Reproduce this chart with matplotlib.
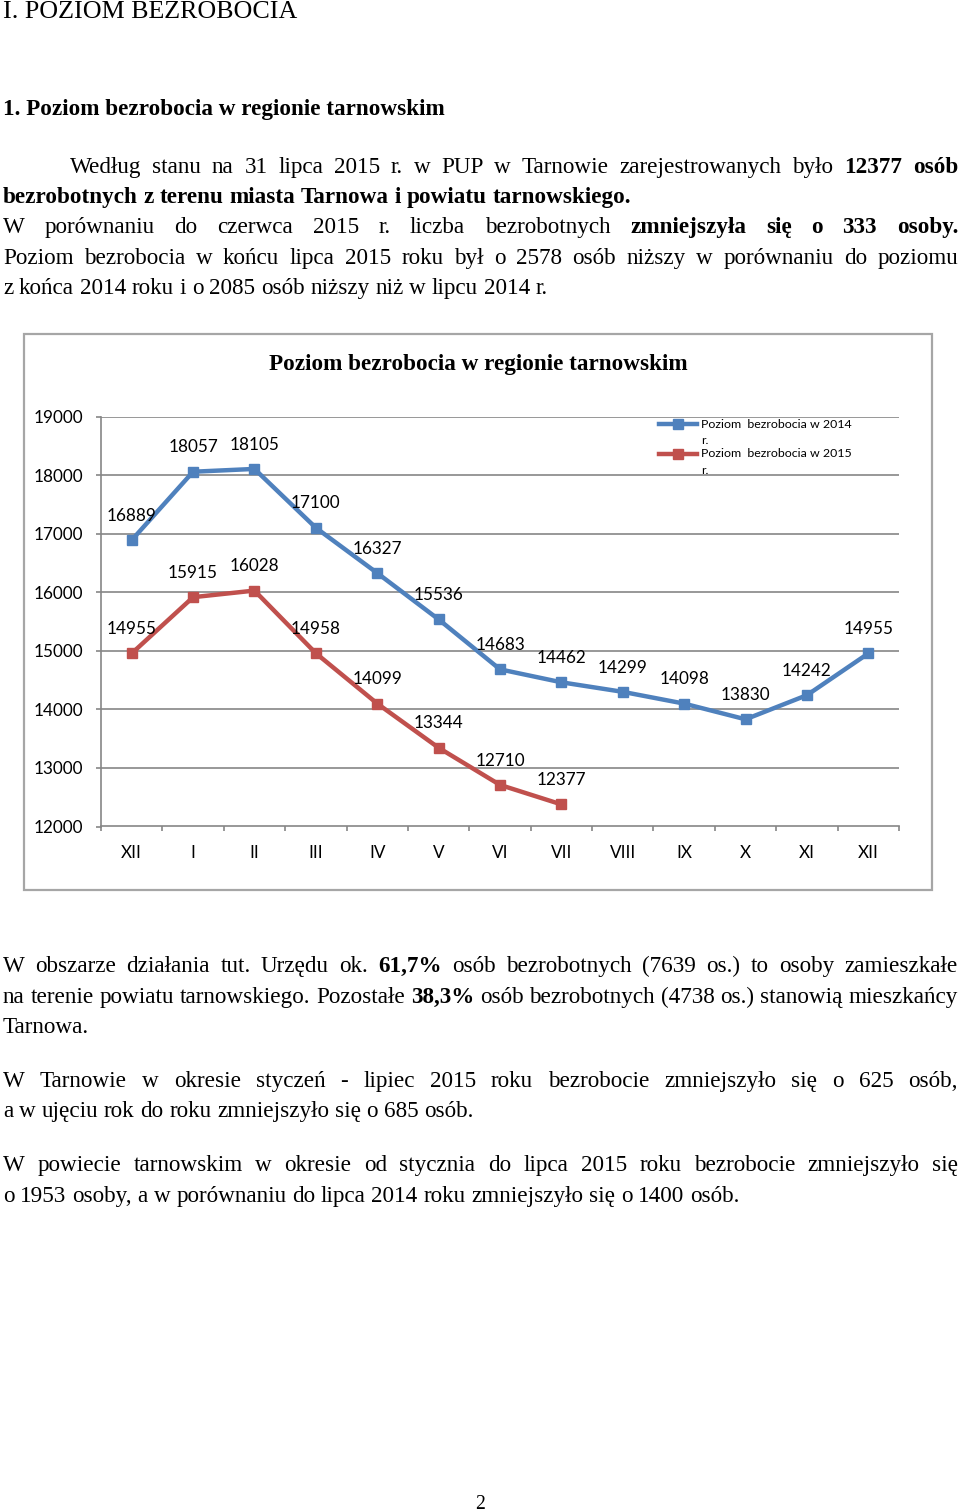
import matplotlib
matplotlib.use('Agg')
import matplotlib.pyplot as plt
from matplotlib.patches import Rectangle
from matplotlib.lines import Line2D
from matplotlib.ticker import FixedLocator, NullFormatter

# ---------------- data ----------------
months = ['XII', 'I', 'II', 'III', 'IV', 'V', 'VI', 'VII', 'VIII', 'IX', 'X', 'XI', 'XII']
level_2014 = [16889, 18057, 18105, 17100, 16327, 15536, 14683, 14462, 14299, 14098, 13830, 14242, 14955]
level_2015 = [14955, 15915, 16028, 14958, 14099, 13344, 12710, 12377]
series_labels = ['Poziom  bezrobocia w 2014', 'Poziom  bezrobocia w 2015']
y_ticks = [12000, 13000, 14000, 15000, 16000, 17000, 18000, 19000]
chart_title = 'Poziom bezrobocia w regionie tarnowskim'

W, H = 960, 1512
fig = plt.figure(figsize=(9.6, 15.12), dpi=100)
fig.patch.set_facecolor('white')
rend = fig.canvas.get_renderer()
SERIF = 'Liberation Serif'
SANS = 'Lato'
BLUE = '#4F81BD'
RED = '#C0504D'
GRID = '#868686'


def fx(x):
    return x / W


def fy(y):
    return 1 - y / H


def width_of(s, size, bold=False, family=SERIF):
    t = fig.text(0, 0, s, fontsize=size, family=family, weight='bold' if bold else 'normal')
    w = t.get_window_extent(rend).width
    t.remove()
    return w


def fit(s, target, bold=False, family=SERIF):
    return 10 * target / width_of(s, 10, bold, family)


BODY = fit('a w ujęciu rok do roku zmniejszyło się o 685 osób.', 470)


def line(tokens, y, x0=3, x1=958, justify=True, size=None):
    size = size or BODY
    words = []
    for txt, b in tokens:
        for w in txt.split():
            words.append((w, b))
    ws = [width_of(w, size, b) for w, b in words]
    if justify and len(words) > 1:
        gap = (x1 - x0 - sum(ws)) / (len(words) - 1)
    else:
        gap = width_of('a a', size) - width_of('aa', size)
    x = x0
    for (w, b), ww in zip(words, ws):
        fig.text(fx(x), fy(y), w, fontsize=size, family=SERIF,
                 weight='bold' if b else 'normal', va='baseline', ha='left')
        x += ww + gap


# ---------------- page text ----------------
s = fit('I. POZIOM BEZROBOCIA', 294)
fig.text(fx(3), fy(18), 'I. POZIOM BEZROBOCIA', fontsize=s, family=SERIF, va='baseline')
s = fit('1. Poziom bezrobocia w regionie tarnowskim', 441, bold=True)
fig.text(fx(3), fy(115), '1. Poziom bezrobocia w regionie tarnowskim', fontsize=s,
         family=SERIF, weight='bold', va='baseline')

line([('Według stanu na 31 lipca 2015 r. w PUP w Tarnowie zarejestrowanych było', False),
      ('12377 osób', True)], 173, x0=70)
line([('bezrobotnych z terenu miasta Tarnowa i powiatu tarnowskiego.', True)], 203, justify=False)
line([('W porównaniu do czerwca 2015 r. liczba bezrobotnych', False),
      ('zmniejszyła się o 333 osoby.', True)], 233)
line([('Poziom bezrobocia w końcu lipca 2015 roku był o 2578 osób niższy w porównaniu do poziomu', False)], 264)
line([('z końca 2014 roku i o 2085 osób niższy niż w lipcu 2014 r.', False)], 294, justify=False)

line([('W obszarze działania tut. Urzędu ok.', False), ('61,7%', True),
      ('osób bezrobotnych (7639 os.) to osoby zamieszkałe', False)], 972)
line([('na terenie powiatu tarnowskiego. Pozostałe', False), ('38,3%', True),
      ('osób bezrobotnych (4738 os.) stanowią mieszkańcy', False)], 1003)
line([('Tarnowa.', False)], 1033, justify=False)
line([('W Tarnowie w okresie styczeń - lipiec 2015 roku bezrobocie zmniejszyło się o 625 osób,', False)], 1087)
line([('a w ujęciu rok do roku zmniejszyło się o 685 osób.', False)], 1117, justify=False)
line([('W powiecie tarnowskim w okresie od stycznia do lipca 2015 roku bezrobocie zmniejszyło się', False)], 1171)
line([('o 1953 osoby, a w porównaniu do lipca 2014 roku zmniejszyło się o 1400 osób.', False)], 1202, justify=False)

fig.text(fx(480), fy(1509), '2', fontsize=BODY * 0.85, family=SERIF, ha='center', va='baseline')

# ---------------- chart ----------------
fig.patches.append(Rectangle((fx(24), fy(890)), fx(932) - fx(24), fy(334) - fy(890),
                             transform=fig.transFigure, fill=False, edgecolor='#a6a6a6', lw=1.6))
s = fit(chart_title, 418, bold=True)
fig.text(fx(478), fy(370), chart_title, fontsize=s, family=SERIF, weight='bold',
         ha='center', va='baseline')

ax_l, ax_r, ax_t, ax_b = 101, 899, 416.5, 826.5
ax = fig.add_axes([fx(ax_l), fy(ax_b), fx(ax_r) - fx(ax_l), (ax_b - ax_t) / H])
ax.set_facecolor('none')
x14 = list(range(len(level_2014)))
x15 = list(range(len(level_2015)))
ax.plot(x14, level_2014, color=BLUE, lw=3.2, marker='s', ms=7.5, zorder=3, clip_on=False)
ax.plot(x15, level_2015, color=RED, lw=3.2, marker='s', ms=7.5, zorder=3, clip_on=False)

LBL = 12.3
for xi, v in zip(x14, level_2014):
    ax.annotate(str(v), (xi, v), xytext=(0, 17.5), textcoords='offset points',
                ha='center', va='center', fontsize=LBL, family=SANS)
for xi, v in zip(x15, level_2015):
    ax.annotate(str(v), (xi, v), xytext=(0, 17.5), textcoords='offset points',
                ha='center', va='center', fontsize=LBL, family=SANS)

ax.set_xlim(-0.5, len(months) - 0.5)
ax.set_ylim(y_ticks[0], y_ticks[-1])
ax.set_yticks(y_ticks)
ax.set_yticklabels([str(t) for t in y_ticks], fontsize=LBL, family=SANS)
ax.xaxis.set_major_locator(FixedLocator([i - 0.5 for i in range(len(months) + 1)]))
ax.xaxis.set_major_formatter(NullFormatter())
ax.xaxis.set_minor_locator(FixedLocator(list(range(len(months)))))
ax.set_xticklabels(months, minor=True, fontsize=LBL, family=SANS)
ax.tick_params(axis='x', which='major', direction='out', length=3.6, color=GRID, width=1.2)
ax.tick_params(axis='x', which='minor', length=0, pad=13)
ax.tick_params(axis='y', direction='out', length=3.6, color=GRID, width=1.2, pad=9)
ax.grid(axis='y', color=GRID, lw=1.2)
ax.set_axisbelow(True)
for sp in ['top', 'right']:
    ax.spines[sp].set_visible(False)
for sp in ['left', 'bottom']:
    ax.spines[sp].set_color(GRID)
    ax.spines[sp].set_linewidth(1.2)

# legend (Excel-like, wrapped label)
LEG = 8.9
for i, (lab, col) in enumerate(zip(series_labels, [BLUE, RED])):
    yy = 424 + 29.5 * i
    fig.lines.append(Line2D([fx(659), fx(697)], [fy(yy), fy(yy)], transform=fig.transFigure,
                            color=col, lw=3.2, marker=None))
    fig.lines.append(Line2D([fx(678)], [fy(yy)], transform=fig.transFigure,
                            color=col, marker='s', ms=7.5, lw=0))
    fig.text(fx(701), fy(yy), lab, fontsize=LEG, family=SANS, va='center', ha='left')
    fig.text(fx(701), fy(yy + 17), 'r.', fontsize=LEG, family=SANS, va='center', ha='left')

fig.savefig('out.png', dpi=100, facecolor='white')
